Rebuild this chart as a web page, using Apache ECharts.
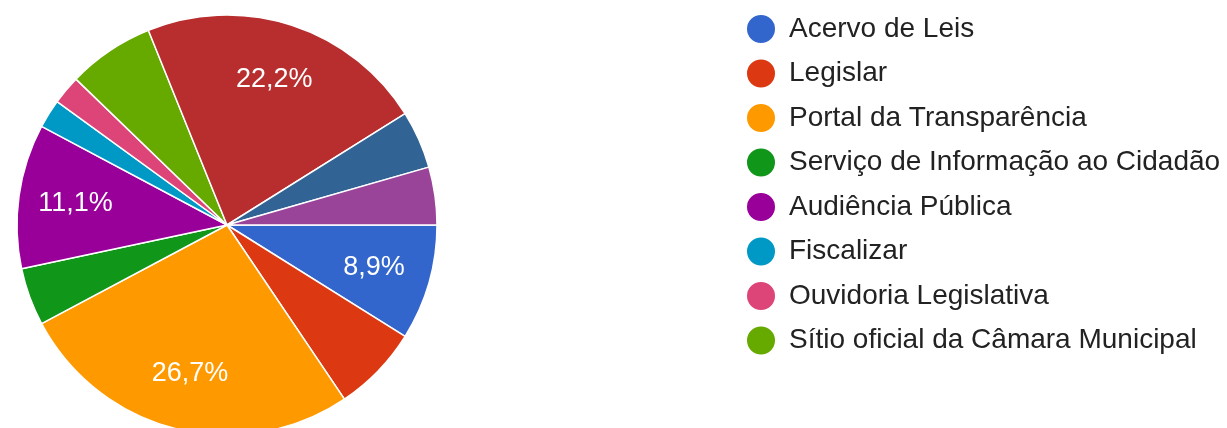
<!DOCTYPE html>
<html>
<head>
<meta charset="utf-8">
<script src="https://cdn.jsdelivr.net/npm/echarts@6/dist/echarts.min.js"></script>
<style>
  html, body { margin: 0; padding: 0; background: #fff; }
  #chart { width: 1227px; height: 428px; }
</style>
</head>
<body>
<div id="chart"></div>
<script>
const categories = [
  "Acervo de Leis",
  "Legislar",
  "Portal da Transparência",
  "Serviço de Informação ao Cidadão",
  "Audiência Pública",
  "Fiscalizar",
  "Ouvidoria Legislativa",
  "Sítio oficial da Câmara Municipal",
  "Outra opção 1",
  "Outra opção 2",
  "Outra opção 3",
];
const counts = [4, 3, 12, 2, 5, 1, 1, 3, 10, 2, 2];
const colors = [
  "#3366cc", "#dc3912", "#ff9900", "#109618", "#990099", "#0099c6",
  "#dd4477", "#66aa00", "#b82e2e", "#316395", "#994499",
];
// only the first 8 fit in the legend
const legendNames = categories.slice(0, 8);

const total = counts.reduce((a, b) => a + b, 0);
const pct = (v) => (v / total * 100).toFixed(1).replace(".", ",") + "%";

const FONT = "'Liberation Sans', Arial, sans-serif";

const chart = echarts.init(document.getElementById("chart"));

const pieData = categories.map((name, i) => ({
  name: name,
  value: counts[i],
  itemStyle: { color: colors[i] },
}));

chart.setOption({
  animation: false,
  legend: {
    data: legendNames,
    orient: "vertical",
    left: 740,
    top: 8,
    icon: "circle",
    itemWidth: 30,
    itemHeight: 30,
    itemGap: 12.5,
    textStyle: {
      fontFamily: FONT,
      fontSize: 28,
      color: "#222",
      padding: [0, 0, 0, 8],
    },
  },
  series: [
    {
      type: "pie",
      center: [227, 225],
      radius: [0, 210],
      startAngle: 0,
      clockwise: true,
      silent: true,
      itemStyle: { borderColor: "#fff", borderWidth: 1.5 },
      label: { show: false },
      labelLine: { show: false },
      data: pieData,
    },
    {
      // transparent overlay, only to place the percentage labels at ~0.72 r
      type: "pie",
      center: [227, 225],
      radius: [90, 210],
      startAngle: 0,
      clockwise: true,
      silent: true,
      itemStyle: { color: "rgba(0,0,0,0)" },
      labelLine: { show: false },
      label: {
        show: true,
        position: "inside",
        color: "#fff",
        fontFamily: FONT,
        fontSize: 27,
        formatter: (p) => (p.value / total >= 0.08 ? pct(p.value) : ""),
      },
      data: categories.map((name, i) => ({ name: name, value: counts[i] })),
    },
  ],
});
</script>
</body>
</html>
